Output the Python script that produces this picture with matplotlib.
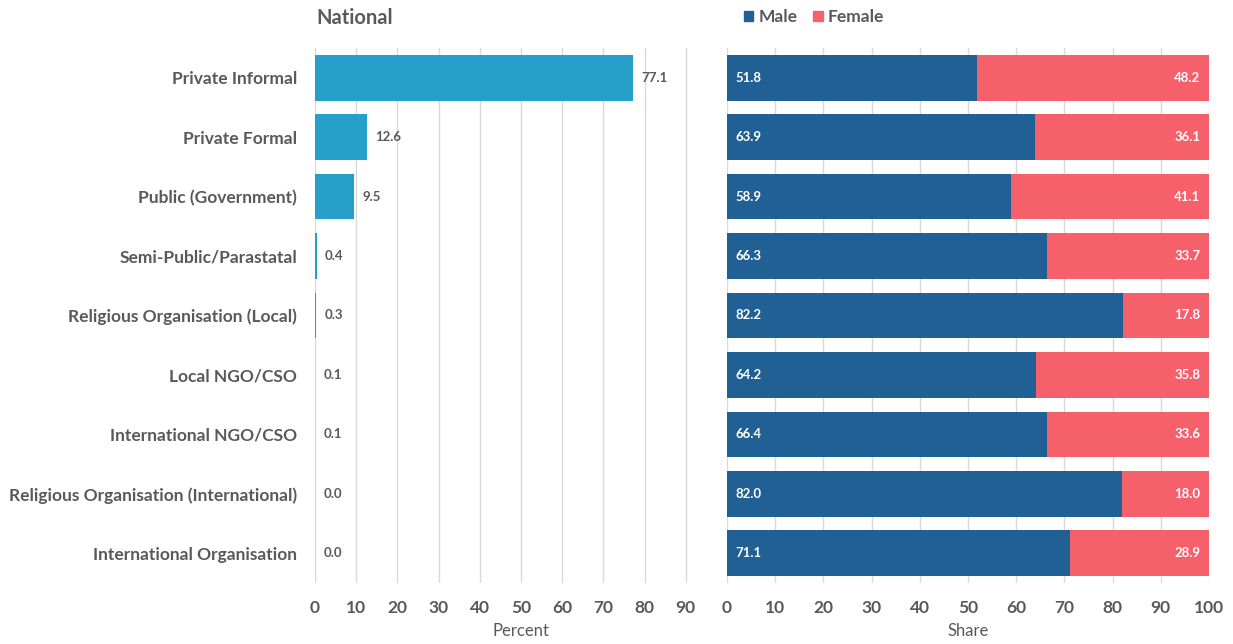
import matplotlib
matplotlib.use("Agg")
import matplotlib.pyplot as plt
import numpy as np

plt.rcParams['font.family'] = ['Lato', 'DejaVu Sans']

categories = ["Private Informal", "Private Formal", "Public (Government)",
              "Semi-Public/Parastatal", "Religious Organisation (Local)",
              "Local NGO/CSO", "International NGO/CSO",
              "Religious Organisation (International)", "International Organisation"]
percent = [77.1, 12.6, 9.5, 0.4, 0.3, 0.1, 0.1, 0.0, 0.0]
male = [51.8, 63.9, 58.9, 66.3, 82.2, 64.2, 66.4, 82.0, 71.1]
female = [48.2, 36.1, 41.1, 33.7, 17.8, 35.8, 33.6, 18.0, 28.9]
left_ticks = [0, 10, 20, 30, 40, 50, 60, 70, 80, 90]
right_ticks = [0, 10, 20, 30, 40, 50, 60, 70, 80, 90, 100]

c_bar = "#26A0CB"
c_male = "#216094"
c_female = "#F6606A"
c_text = "#595959"
c_grid = "#D9D9D9"

W, H = 1233, 644
fig = plt.figure(figsize=(W/100, H/100), dpi=100)
top = 1 - 48/H
bot = 1 - 583/H
axL = fig.add_axes([315/W, bot, (727-315)/W, top-bot])
axR = fig.add_axes([727/W, bot, (1209-727)/W, top-bot])

y = np.arange(len(categories))
bh = 0.77

axL.barh(y, percent, height=bh, color=c_bar, linewidth=0, zorder=3)
axL.set_xlim(0, 100)
axL.set_ylim(len(categories)-0.5, -0.5)
axL.set_xticks(left_ticks)
axL.set_yticks(y)
axL.set_yticklabels(categories)
for v, yi in zip(percent, y):
    axL.text(v + 2.0, yi, f"{v:.1f}", va="center", ha="left", fontsize=9.5,
             fontweight="bold", color=c_text)
axL.set_xlabel("Percent", color=c_text, fontsize=12, labelpad=5, fontweight="normal")

axR.barh(y, male, height=bh, color=c_male, linewidth=0, zorder=3)
axR.barh(y, female, left=male, height=bh, color=c_female, linewidth=0, zorder=3)
axR.set_xlim(0, 100)
axR.set_ylim(len(categories)-0.5, -0.5)
axR.set_xticks(right_ticks)
axR.set_yticks([])
for m, f, yi in zip(male, female, y):
    axR.text(1.8, yi, f"{m:.1f}", va="center", ha="left", fontsize=9.5,
             fontweight="bold", color="white", zorder=4)
    axR.text(98.2, yi, f"{f:.1f}", va="center", ha="right", fontsize=9.5,
             fontweight="bold", color="white", zorder=4)
axR.set_xlabel("Share", color=c_text, fontsize=12, labelpad=5, fontweight="normal")

for ax in (axL, axR):
    for s in ax.spines.values():
        s.set_visible(False)
    ax.grid(axis="x", color=c_grid, linewidth=1, zorder=0)
    ax.tick_params(axis="both", length=0, colors=c_text, labelsize=12.5, pad=12)
    for lab in ax.get_xticklabels():
        lab.set_fontweight("bold")
    for lab in ax.get_yticklabels():
        lab.set_fontweight("bold")
axL.tick_params(axis="y", pad=13)

fig.text(316/W, 1 - 18/H, "National", fontsize=14.5, fontweight="bold",
         color=c_text, va="center", ha="left")

from matplotlib.patches import Patch
handles = [Patch(color=c_male, label="Male"), Patch(color=c_female, label="Female")]
fig.legend(handles=handles, loc="center left", bbox_to_anchor=(728/W, 1 - 17/H),
           ncol=2, frameon=False, handlelength=0.55, handleheight=0.55,
           handletextpad=0.3, columnspacing=0.9, labelcolor=c_text,
           prop={"weight": "bold", "size": 12.5})

fig.savefig("out.png", dpi=100)
